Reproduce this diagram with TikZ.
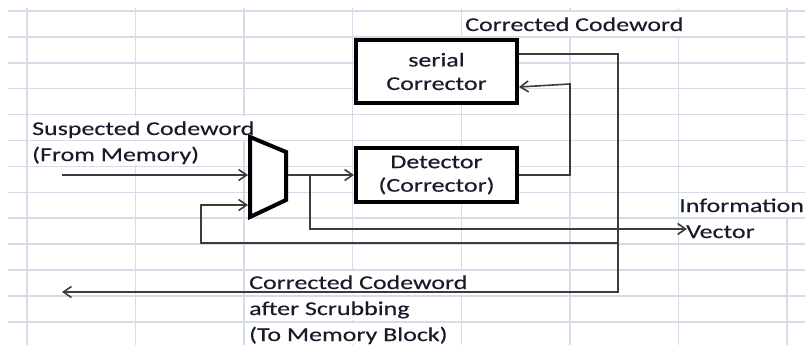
\documentclass[tikz,border=0pt]{standalone}
\usepackage{fontspec}
\setmainfont{Carlito}[FakeStretch=1.33,FakeBold=0.3]
\usetikzlibrary{arrows.meta}
\definecolor{gridc}{HTML}{D5DCE9}
\definecolor{linec}{HTML}{3C3C3C}
\definecolor{txtc}{HTML}{1A1A2A}
\newcommand\mylblfont{\fontsize{19.5}{23.5}\selectfont}
\begin{document}
\begin{tikzpicture}[x=1pt,y=-1pt,
  gridline/.style={draw=gridc, line width=1.5pt},
  conn/.style={draw=linec, line width=1.6pt},
  arr/.style={conn, -{Straight Barb[length=8pt,width=11pt]}},
  blk/.style={draw=black, line width=4pt, fill=white, align=center, inner sep=0pt, font=\mylblfont, text=txtc},
  lbl/.style={anchor=base west, inner sep=0pt, font=\mylblfont, text=txtc}]
\useasboundingbox (0,0) rectangle (805,345);
% spreadsheet grid
\foreach \k in {0,...,7} \draw[gridline] ({27+108.57*\k},8) -- ({27+108.57*\k},345);
\foreach \x/\a/\b in {569.85/11/36.9, 678.42/11/36.9, 135.57/114.6/140.5, 244.14/114.6/140.5,
  135.57/140.5/166.4, 787/192.3/218.2, 352.71/269.4/295.3, 352.71/295.3/321.2, 352.71/321.2/345,
  461.28/269.4/295.3}
  \fill[white] ({\x-3},{\a+1}) rectangle ({\x+3},{\b-1});
\foreach \k in {0,...,12} \draw[gridline] (8,{11+25.9*\k}) -- (805,{11+25.9*\k});
% blocks
\node[blk, minimum width=161pt, minimum height=63pt] (ser) at (436.5,71.5) {serial\\Corrector};
\node[blk, minimum width=161pt, minimum height=54pt] (det) at (436.5,175) {Detector\\(Corrector)};
% multiplexer
\coordinate (m1) at (250,137);
\coordinate (m2) at (286,152);
\coordinate (m3) at (286,200);
\coordinate (m4) at (250,217);
\draw[line width=4pt, fill=white, line join=miter] (m1) -- (m2) -- (m3) -- (m4) -- cycle;
\coordinate (min1) at (248,175);
\coordinate (min2) at (248,205);
\coordinate (mout) at (288,175);
% connector points
\coordinate (src) at (62,175);
\coordinate (br) at (310,175);
\coordinate (info) at (687,229);
\coordinate (dj1) at (570,175);
\coordinate (dj2) at (570,84);
\coordinate (sin) at (519,87);
\coordinate (sout) at (519,54);
\coordinate (c1) at (618,54);
\coordinate (c2) at (618,292);
\coordinate (dst) at (62,292);
\coordinate (f0) at (618,243);
\coordinate (f1) at (201,243);
\coordinate (f2) at (201,205);
% connectors
\draw[arr] (src) -- (min1);
\draw[arr] (mout) -- (det.west);
\draw[arr] (br) |- (info);
\draw[arr] (det.east) -- (dj1) -- (dj2) -- (sin);
\draw[arr] (sout) -- (c1) -- (c2) -- (dst);
\draw[arr] (f0) -- (f1) -- (f2) -- (min2);
% labels
\node[lbl] (t1) at (465,31) {Corrected Codeword};
\node[lbl] (t2) at (32,135) {Suspected Codeword};
\node[lbl] (t3) at (32,161) {(From Memory)};
\node[lbl] (t4) at (679,212) {Information};
\node[lbl] (t5) at (686,238) {Vector};
\node[lbl] (t6) at (249,289) {Corrected Codeword};
\node[lbl] (t7) at (249,315) {after Scrubbing};
\node[lbl] (t8) at (249,341) {(To Memory Block)};
\end{tikzpicture}
\end{document}
